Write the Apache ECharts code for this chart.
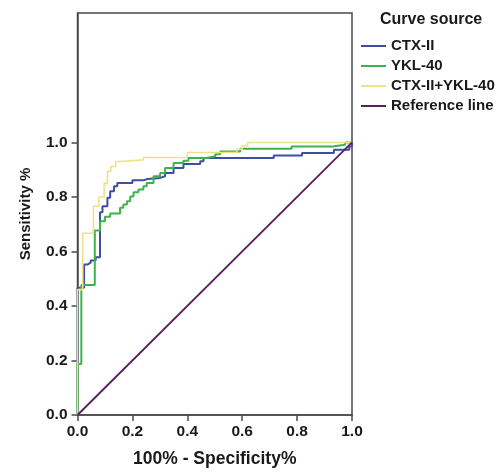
<!DOCTYPE html>
<html>
<head>
<meta charset="utf-8">
<script src="https://cdn.jsdelivr.net/npm/echarts@6/dist/echarts.min.js"></script>
<style>
html,body{margin:0;padding:0;background:#fff;}
#chart{width:502px;height:473px;}
</style>
</head>
<body>
<div id="chart"></div>
<script>
// ROC step points [1 - specificity, sensitivity]
var seriesNames = ['CTX-II', 'YKL-40', 'CTX-II+YKL-40', 'Reference line'];
var xTicks = [0, 0.2, 0.4, 0.6, 0.8, 1.0];
var yTicks = [0, 0.2, 0.4, 0.6, 0.8, 1.0];

var ctxII = [[0,0],[0,0.467],[0.024,0.467],[0.024,0.552],[0.036,0.552],[0.036,0.559],[0.048,0.559],[0.048,0.567],[0.066,0.567],[0.066,0.579],[0.082,0.579],[0.082,0.744],[0.091,0.744],[0.091,0.766],[0.109,0.766],[0.109,0.797],[0.119,0.797],[0.119,0.821],[0.133,0.821],[0.133,0.839],[0.145,0.839],[0.145,0.851],[0.2,0.851],[0.2,0.861],[0.24,0.861],[0.24,0.866],[0.255,0.866],[0.255,0.870],[0.301,0.870],[0.301,0.876],[0.319,0.876],[0.319,0.888],[0.35,0.888],[0.35,0.906],[0.386,0.906],[0.386,0.921],[0.447,0.921],[0.447,0.931],[0.459,0.931],[0.459,0.943],[0.715,0.943],[0.715,0.952],[0.818,0.952],[0.818,0.961],[0.934,0.961],[0.934,0.973],[0.99,0.973],[0.99,0.985],[1,0.985],[1,1]];

var ykl40 = [[0,0],[0,0.187],[0.014,0.187],[0.014,0.477],[0.063,0.477],[0.063,0.677],[0.082,0.677],[0.082,0.711],[0.100,0.711],[0.100,0.727],[0.119,0.727],[0.119,0.739],[0.155,0.739],[0.155,0.760],[0.167,0.760],[0.167,0.772],[0.180,0.772],[0.180,0.784],[0.192,0.784],[0.192,0.802],[0.204,0.802],[0.204,0.817],[0.222,0.817],[0.222,0.827],[0.240,0.827],[0.240,0.839],[0.252,0.839],[0.252,0.851],[0.277,0.851],[0.277,0.876],[0.301,0.876],[0.301,0.888],[0.319,0.888],[0.319,0.906],[0.35,0.906],[0.35,0.925],[0.386,0.925],[0.386,0.933],[0.404,0.933],[0.404,0.943],[0.47,0.943],[0.47,0.949],[0.502,0.949],[0.502,0.957],[0.52,0.957],[0.52,0.967],[0.593,0.967],[0.593,0.977],[0.78,0.977],[0.78,0.985],[0.93,0.985],[0.93,0.992],[0.975,0.992],[0.975,1.0],[1,1]];

var combined = [[0,0],[0,0.46],[0.019,0.46],[0.019,0.667],[0.058,0.667],[0.058,0.766],[0.078,0.766],[0.078,0.80],[0.097,0.80],[0.097,0.85],[0.109,0.85],[0.109,0.894],[0.121,0.894],[0.121,0.912],[0.139,0.912],[0.139,0.93],[0.158,0.93],[0.158,0.936],[0.24,0.936],[0.24,0.945],[0.40,0.945],[0.40,0.963],[0.58,0.963],[0.58,0.975],[0.60,0.975],[0.60,0.988],[0.62,0.988],[0.62,1.0],[1,1]];

var reference = [[0,0],[1,1]];

var colors = ['#3d4ea3', '#3cb44a', '#ece389', '#5b1d5c'];
var FONT = '"Liberation Sans", Arial, sans-serif';
var TXT = '#1a1a1a';

var chart = echarts.init(document.getElementById('chart'), null, {renderer: 'canvas'});

function mk(name, data, color, width) {
  return {
    name: name, type: 'line', data: data, showSymbol: false, symbol: 'none',
    animation: false, silent: true,
    lineStyle: {color: color, width: width},
    itemStyle: {color: color}
  };
}

chart.setOption({
  backgroundColor: '#fff',
  animation: false,
  title: {
    text: 'Curve source', left: 375, top: 7,
    textStyle: {fontFamily: FONT, fontWeight: 'bold', fontSize: 16, color: TXT}
  },
  legend: {
    orient: 'vertical', left: 356, top: 33, itemGap: 4,
    itemWidth: 25, itemHeight: 2, icon: 'rect',
    data: seriesNames,
    textStyle: {fontFamily: FONT, fontWeight: 'bold', fontSize: 15, color: TXT, lineHeight: 16}
  },
  grid: {
    left: 77.5, right: 150, top: 13, bottom: 57,
    show: true, borderColor: '#4a4a4a', borderWidth: 1.5, backgroundColor: 'transparent'
  },
  xAxis: {
    type: 'value', min: 0, max: 1, interval: 0.2,
    name: '100% - Specificity%', nameLocation: 'middle', nameGap: 35,
    nameTextStyle: {fontFamily: FONT, fontWeight: 'bold', fontSize: 17.5, color: TXT},
    axisLine: {show: true, onZero: false, lineStyle: {color: '#4a4a4a', width: 1.5}},
    axisTick: {show: true, length: 6, lineStyle: {color: '#4a4a4a', width: 1.5}},
    axisLabel: {
      margin: 9, fontFamily: FONT, fontWeight: 'bold', fontSize: 15.5, color: TXT,
      formatter: function (v) { return v.toFixed(1); }
    },
    splitLine: {show: false}
  },
  yAxis: {
    type: 'value', min: 0, max: 1.475,
    name: 'Sensitivity %', nameLocation: 'middle', nameGap: 44,
    nameTextStyle: {fontFamily: FONT, fontWeight: 'bold', fontSize: 15, color: TXT},
    axisLine: {show: true, onZero: false, lineStyle: {color: '#4a4a4a', width: 1.5}},
    axisTick: {show: true, length: 6, customValues: yTicks, lineStyle: {color: '#4a4a4a', width: 1.5}},
    axisLabel: {
      margin: 10, customValues: yTicks, fontFamily: FONT, fontWeight: 'bold', fontSize: 15.5, color: TXT,
      formatter: function (v) { return v.toFixed(1); }
    },
    splitLine: {show: false}
  },
  series: [
    mk(seriesNames[0], ctxII, colors[0], 2),
    mk(seriesNames[1], ykl40, colors[1], 2),
    mk(seriesNames[2], combined, colors[2], 1.6),
    mk(seriesNames[3], reference, colors[3], 1.8)
  ]
});
</script>
</body>
</html>
